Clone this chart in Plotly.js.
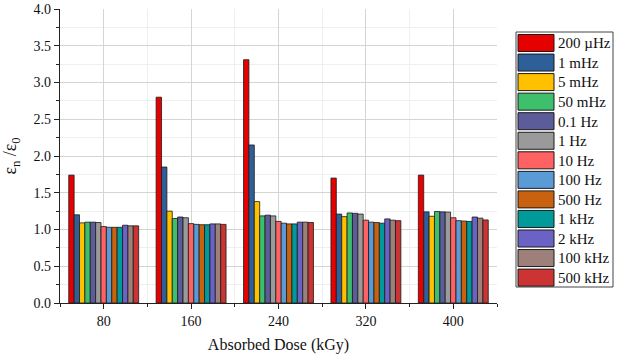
<!DOCTYPE html>
<html>
<head>
<meta charset="utf-8">
<script src="https://cdn.plot.ly/plotly-3.0.1.min.js"></script>
<style>
  html, body { margin: 0; padding: 0; background: #fff; }
  #chart { width: 618px; height: 356px; }
</style>
</head>
<body>
<div id="chart"></div>
<script>
// Absorbed dose groups (kGy)
const doses = [80, 160, 240, 320, 400];

// Measurement frequencies (legend order)
const freqs = ['200 \u00B5Hz', '1 mHz', '5 mHz', '50 mHz', '0.1 Hz', '1 Hz', '10 Hz',
               '100 Hz', '500 Hz', '1 kHz', '2 kHz', '100 kHz', '500 kHz'];

const colors = ['#e60000', '#2f5f98', '#ffc000', '#3dbf6c', '#5c5c9a', '#9a9a9a', '#ff6262',
                '#5b9bd5', '#c8620f', '#009a9a', '#6a62c4', '#9c8079', '#cc3333'];

// Relative permittivity eps_n / eps_0, one array per frequency (across doses)
const r200uHz = [1.74, 2.80, 3.31, 1.70, 1.74];
const r1mHz   = [1.20, 1.85, 2.15, 1.21, 1.24];
const r5mHz   = [1.09, 1.25, 1.38, 1.175, 1.18];
const r50mHz  = [1.10, 1.15, 1.185, 1.225, 1.245];
const r01Hz   = [1.10, 1.17, 1.195, 1.22, 1.24];
const r1Hz    = [1.095, 1.16, 1.185, 1.21, 1.237];
const r10Hz   = [1.04, 1.08, 1.11, 1.127, 1.16];
const r100Hz  = [1.03, 1.07, 1.086, 1.10, 1.12];
const r500Hz  = [1.03, 1.065, 1.076, 1.095, 1.115];
const r1kHz   = [1.03, 1.065, 1.076, 1.086, 1.11];
const r2kHz   = [1.058, 1.076, 1.10, 1.144, 1.17];
const r100kHz = [1.05, 1.076, 1.10, 1.127, 1.155];
const r500kHz = [1.05, 1.07, 1.095, 1.12, 1.13];

const series = [r200uHz, r1mHz, r5mHz, r50mHz, r01Hz, r1Hz, r10Hz,
                r100Hz, r500Hz, r1kHz, r2kHz, r100kHz, r500kHz];

const serif = 'Liberation Serif, DejaVu Serif, serif';

const traces = series.map((vals, i) => ({
  type: 'bar',
  name: freqs[i],
  x: doses,
  y: vals,
  marker: { color: colors[i], line: { color: '#1a1a1a', width: 0.8 } },
  showlegend: false,
  hoverinfo: 'x+y+name'
}));

// Plot area in pixels
const W = 618, H = 356;
const M = { l: 60, r: 121, t: 9, b: 53 };
const pw = W - M.l - M.r, ph = H - M.t - M.b;
const px = v => (v - M.l) / pw;          // pixel x -> paper x
const py = v => (H - M.b - v) / ph;      // pixel y -> paper y

// Boxed legend with wide swatches
const shapes = [{
  type: 'rect', xref: 'paper', yref: 'paper',
  x0: px(516), x1: px(613), y0: py(32), y1: py(287),
  line: { color: '#444', width: 1 }, fillcolor: 'rgba(0,0,0,0)'
}];
const annotations = [];
const pitch = 19.55;
freqs.forEach((f, i) => {
  const top = 34.5 + i * pitch;
  shapes.push({
    type: 'rect', xref: 'paper', yref: 'paper',
    x0: px(518), x1: px(554), y0: py(top), y1: py(top + 17),
    fillcolor: colors[i], line: { color: '#1a1a1a', width: 1 }
  });
  annotations.push({
    xref: 'paper', yref: 'paper', x: px(556), y: py(top + 8.8),
    xanchor: 'left', yanchor: 'middle', showarrow: false,
    text: f, font: { family: serif, size: 15, color: '#111' }
  });
});

const layout = {
  width: W, height: H,
  margin: M,
  paper_bgcolor: '#fff', plot_bgcolor: '#fff',
  barmode: 'group', bargap: 0.2, bargroupgap: 0,
  showlegend: false,
  font: { family: serif, color: '#111' },
  xaxis: {
    range: [40, 440], tickvals: doses, ticktext: doses.map(String),
    ticks: 'outside', ticklen: 5, tickcolor: '#222', tickwidth: 1,
    showline: true, linecolor: '#222', linewidth: 1.2,
    showgrid: true, gridcolor: '#d4d4d4', gridwidth: 1,
    zeroline: false,
    minor: { dtick: 40, tick0: 40, ticks: 'outside', ticklen: 3, tickcolor: '#222',
             showgrid: true, gridcolor: '#efefef' },
    tickfont: { family: serif, size: 14, color: '#111' },
    title: { text: 'Absorbed Dose (kGy)', font: { family: serif, size: 16, color: '#111' }, standoff: 10 }
  },
  yaxis: {
    range: [0, 4], dtick: 0.5, tick0: 0, tickformat: '.1f',
    ticks: 'outside', ticklen: 5, tickcolor: '#222', tickwidth: 1,
    showline: true, linecolor: '#222', linewidth: 1.2,
    showgrid: true, gridcolor: '#d4d4d4', gridwidth: 1,
    zeroline: false,
    minor: { dtick: 0.25, ticks: 'outside', ticklen: 3, tickcolor: '#222',
             showgrid: true, gridcolor: '#efefef' },
    tickfont: { family: serif, size: 14, color: '#111' },
    title: { text: '\u03B5<sub>n</sub> /\u03B5<sub>0</sub>', font: { family: serif, size: 18, color: '#111' }, standoff: 12 }
  },
  shapes: shapes,
  annotations: annotations
};

Plotly.newPlot('chart', traces, layout, { displayModeBar: false, staticPlot: true });
</script>
</body>
</html>
